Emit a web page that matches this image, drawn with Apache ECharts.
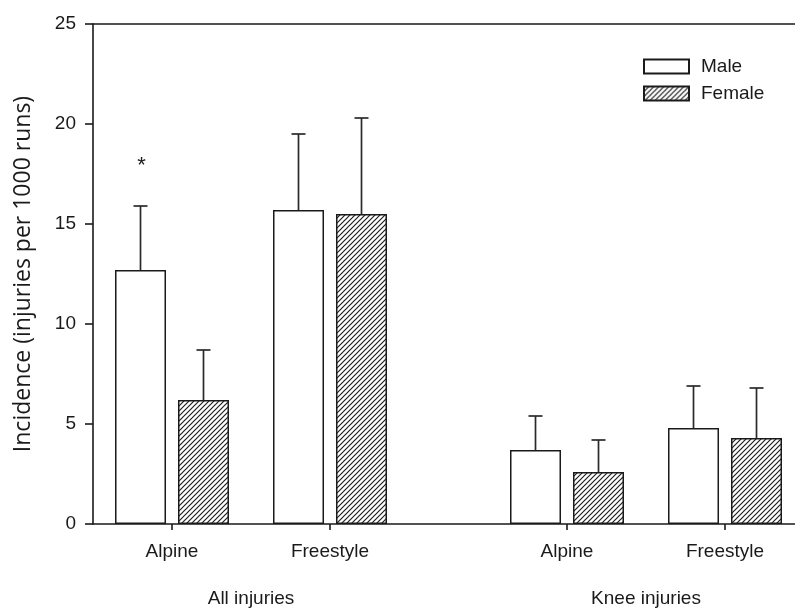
<!DOCTYPE html>
<html>
<head>
<meta charset="utf-8">
<script src="https://cdn.jsdelivr.net/npm/echarts@6/dist/echarts.min.js"></script>
<style>
  html, body { margin: 0; padding: 0; background: #fff; }
  #chart { width: 795px; height: 608px; }
</style>
</head>
<body>
<div id="chart"></div>
<script>
// Injury incidence by discipline and sex (mean + SD)
const subgroups = ['Alpine', 'Freestyle', 'Alpine', 'Freestyle'];
const groups = ['All injuries', 'Knee injuries'];
const maleMean = [12.7, 15.7, 3.7, 4.8];
const maleSD = [3.2, 3.8, 1.7, 2.1];
const femaleMean = [6.2, 15.5, 2.6, 4.3];
const femaleSD = [2.5, 4.8, 1.6, 2.5];
const maleMarks = ['*', '', '', ''];
const yTicks = [0, 5, 10, 15, 20, 25];

// Slot layout along the x axis: two subgroups per group, wider gap between groups
const slots = [1, 2, 3.5, 4.5];
const groupSlots = [1.5, 4.0];

const INK = '#1a1a1a';
const FONT = 'Liberation Sans, Arial, sans-serif';
const BAR_W = 51;
const BAR_GAP = 12;
const HALF = (BAR_W + BAR_GAP) / 2;

// Diagonal hatch fill
function hatch() {
  const s = 5;
  const c = document.createElement('canvas');
  c.width = s; c.height = s;
  const g = c.getContext('2d');
  g.fillStyle = '#fff';
  g.fillRect(0, 0, s, s);
  g.strokeStyle = '#1e1e1e';
  g.lineWidth = 1.2;
  g.beginPath();
  g.moveTo(-1, s + 1); g.lineTo(s + 1, -1);
  g.moveTo(-1, 1); g.lineTo(1, -1);
  g.moveTo(s - 1, s + 1); g.lineTo(s + 1, s - 1);
  g.stroke();
  return { image: c, repeat: 'repeat' };
}

function pairs(vals) { return slots.map((x, i) => [x, vals[i]]); }
function triples(means, sds, marks) {
  return slots.map((x, i) => [x, means[i], sds[i], marks ? marks[i] : '']);
}

function errorRenderer(offset) {
  return function (params, api) {
    const x = api.value(0), m = api.value(1), e = api.value(2);
    const mark = api.value(3);
    const base = api.coord([x, m]);
    const top = api.coord([x, m + e]);
    const cx = base[0] + offset;
    const style = { stroke: '#2a2a2a', lineWidth: 1.7 };
    const children = [
      { type: 'line', shape: { x1: cx, y1: base[1], x2: cx, y2: top[1] }, style },
      { type: 'line', shape: { x1: cx - 7, y1: top[1], x2: cx + 7, y2: top[1] }, style }
    ];
    if (mark) {
      children.push({
        type: 'text',
        style: {
          text: mark, x: cx + 1, y: top[1] - 40,
          align: 'center', verticalAlign: 'middle',
          font: '22px ' + FONT, fill: INK
        }
      });
    }
    return { type: 'group', children };
  };
}

const chart = echarts.init(document.getElementById('chart'), null, { renderer: 'canvas' });
const xMin = 0.5, xMax = 4.943;

chart.setOption({
  animation: false,
  backgroundColor: '#fff',
  grid: { left: 93, right: 0, top: 24, bottom: 84 },
  legend: {
    orient: 'vertical',
    left: 643, top: 57, padding: 0,
    icon: 'rect',
    itemWidth: 45, itemHeight: 14, itemGap: 8,
    data: ['Male', 'Female'],
    textStyle: { fontFamily: FONT, fontSize: 19, color: INK, padding: [0, 0, 0, 7] }
  },
  xAxis: [
    {
      type: 'value', min: xMin, max: xMax, position: 'bottom',
      axisLine: { show: true, onZero: false, lineStyle: { color: INK, width: 1.6 } },
      axisTick: { show: true, length: 6, customValues: slots, lineStyle: { color: INK, width: 1.6 } },
      axisLabel: {
        customValues: slots, margin: 18,
        fontFamily: FONT, fontSize: 19, color: INK,
        formatter: v => subgroups[slots.indexOf(v)] || ''
      },
      splitLine: { show: false }
    },
    {
      type: 'value', min: xMin, max: xMax, position: 'bottom',
      axisLine: { show: false }, axisTick: { show: false },
      axisLabel: {
        customValues: groupSlots, margin: 65,
        fontFamily: FONT, fontSize: 19, color: INK,
        formatter: v => groups[groupSlots.indexOf(v)] || ''
      },
      splitLine: { show: false }
    },
    {
      type: 'value', min: xMin, max: xMax, position: 'top',
      axisLine: { show: true, onZero: false, lineStyle: { color: INK, width: 1.6 } },
      axisTick: { show: false }, axisLabel: { show: false }, splitLine: { show: false }
    }
  ],
  yAxis: {
    type: 'value', min: 0, max: 25, interval: 5,
    name: 'Incidence (injuries per 1000 runs)',
    nameLocation: 'middle', nameGap: 58,
    nameTextStyle: { fontFamily: 'Open Sans, Noto Sans, sans-serif', fontSize: 23, color: INK },
    axisLine: { show: true, lineStyle: { color: INK, width: 1.6 } },
    axisTick: { show: true, length: 8, customValues: yTicks, lineStyle: { color: INK, width: 1.6 } },
    axisLabel: { margin: 17, fontFamily: FONT, fontSize: 19, color: INK },
    splitLine: { show: false }
  },
  series: [
    {
      name: 'Male', type: 'bar', xAxisIndex: 0,
      barWidth: BAR_W, barGap: (BAR_GAP / BAR_W * 100).toFixed(1) + '%',
      data: pairs(maleMean),
      itemStyle: { color: '#fff', borderColor: INK, borderWidth: 1.5 }
    },
    {
      name: 'Female', type: 'bar', xAxisIndex: 0,
      barWidth: BAR_W, barGap: (BAR_GAP / BAR_W * 100).toFixed(1) + '%',
      data: pairs(femaleMean),
      itemStyle: { color: hatch(), borderColor: INK, borderWidth: 1.5 }
    },
    {
      type: 'custom', xAxisIndex: 0, z: 3,
      renderItem: errorRenderer(-HALF),
      data: triples(maleMean, maleSD, maleMarks)
    },
    {
      type: 'custom', xAxisIndex: 0, z: 3,
      renderItem: errorRenderer(HALF),
      data: triples(femaleMean, femaleSD)
    }
  ]
});
</script>
</body>
</html>
